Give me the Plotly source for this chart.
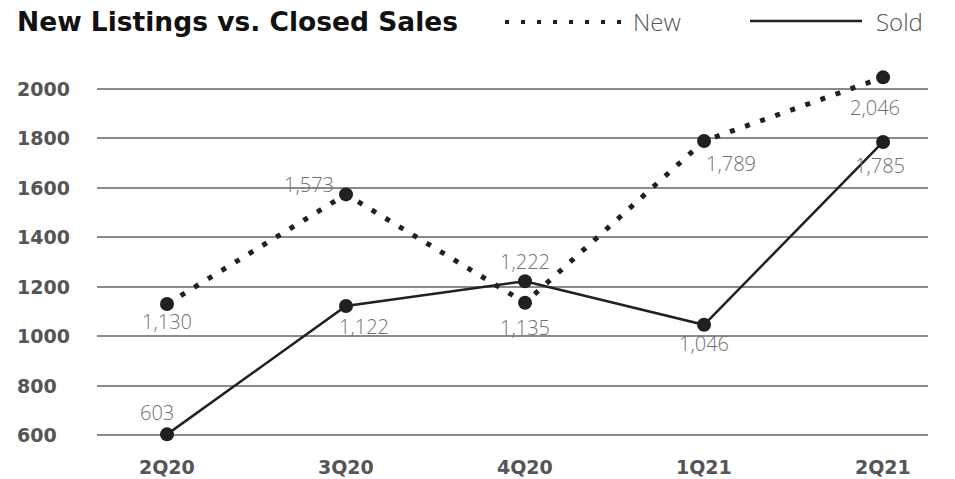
import plotly.graph_objects as go

# Quarterly new listings vs. closed sales
quarters = ["2Q20", "3Q20", "4Q20", "1Q21", "2Q21"]
new_listings = [1130, 1573, 1135, 1789, 2046]
closed_sales = [603, 1122, 1222, 1046, 1785]
y_ticks = [600, 800, 1000, 1200, 1400, 1600, 1800, 2000]

INK = "#231f20"
GRID = "#8a8a8a"
AXIS_TXT = "#555555"
VAL_TXT = "#707070"
BOLD = "DejaVu Sans"
LIGHT = "Open Sans"

# pixel offsets of each value label from its point
new_off = [(0, 18), (-37, -10), (0, 25), (27, 23), (-8, 30)]
sold_off = [(-10, -22), (18, 21), (0, -20), (0, 19), (-3, 24)]

xs = list(range(len(quarters)))

fig = go.Figure()
fig.add_trace(go.Scatter(
    x=xs, y=new_listings, name="New", mode="lines+markers",
    line=dict(color=INK, width=5, dash="5px,11px"),
    marker=dict(color=INK, size=14),
))
fig.add_trace(go.Scatter(
    x=xs, y=closed_sales, name="Sold", mode="lines+markers",
    line=dict(color=INK, width=2.5),
    marker=dict(color=INK, size=14),
))

annotations = []
for series, offs in ((new_listings, new_off), (closed_sales, sold_off)):
    for i, v in enumerate(series):
        dx, dy = offs[i]
        annotations.append(dict(
            x=i, y=v, xref="x", yref="y", text=f"{v:,}", showarrow=False,
            xanchor="center", yanchor="middle", xshift=dx, yshift=-dy,
            font=dict(family=LIGHT, size=20, color=VAL_TXT, weight=300),
        ))

# pixel -> paper helpers for page-level text
W = 955 - 97 - 27
H = 479 - 64 - 34
def px(x):
    return (x - 97) / W
def py(y):
    return (479 - 34 - y) / H

# y tick labels, left aligned at the page edge
for v in y_ticks:
    annotations.append(dict(
        x=px(15), xref="paper", y=v, yref="y", text=str(v), showarrow=False,
        xanchor="left", yanchor="middle",
        font=dict(family=BOLD, size=19, color=AXIS_TXT, weight="bold"),
    ))
# x category labels
for i, q in enumerate(quarters):
    annotations.append(dict(
        x=i, xref="x", y=py(467), yref="paper", text=q, showarrow=False,
        xanchor="center", yanchor="middle",
        font=dict(family=BOLD, size=19, color=AXIS_TXT, weight="bold"),
    ))

# title and legend
annotations.append(dict(
    x=px(15), y=py(22), xref="paper", yref="paper", xanchor="left", yanchor="middle",
    text="New Listings vs. Closed Sales", showarrow=False,
    font=dict(family=BOLD, size=26.5, color="#111111", weight="bold"),
))
annotations.append(dict(
    x=px(631), y=py(22), xref="paper", yref="paper", xanchor="left", yanchor="middle",
    text="New", showarrow=False, font=dict(family=LIGHT, size=24, color=AXIS_TXT, weight=300),
))
annotations.append(dict(
    x=px(874), y=py(22), xref="paper", yref="paper", xanchor="left", yanchor="middle",
    text="Sold", showarrow=False, font=dict(family=LIGHT, size=24, color=AXIS_TXT, weight=300),
))

fig.update_layout(
    width=955, height=479,
    margin=dict(l=97, r=27, t=64, b=34),
    paper_bgcolor="white", plot_bgcolor="white",
    showlegend=False,
    xaxis=dict(range=[-0.391, 4.251], showgrid=False, zeroline=False,
               showticklabels=False, fixedrange=True),
    yaxis=dict(range=[560, 2100], tickvals=y_ticks, showticklabels=False,
               showgrid=True, gridcolor=GRID, gridwidth=1.5, zeroline=False),
    annotations=annotations,
)

fig.add_shape(type="line", xref="paper", yref="paper",
              x0=px(505), x1=px(624), y0=py(22), y1=py(22),
              line=dict(color=INK, width=4, dash="4px,12px"))
fig.add_shape(type="line", xref="paper", yref="paper",
              x0=px(750), x1=px(862), y0=py(21), y1=py(21),
              line=dict(color=INK, width=2.5))

fig.write_html("out.html")
